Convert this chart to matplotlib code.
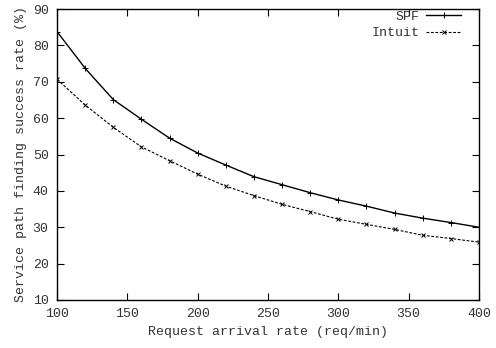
import matplotlib
matplotlib.use('Agg')
import matplotlib.pyplot as plt

# request arrival rate (req/min)
rates = [100, 120, 140, 160, 180, 200, 220, 240, 260, 280, 300, 320, 340, 360, 380, 400]

# success rate (%)
spf = [83.8, 73.7, 65.1, 59.7, 54.5, 50.4, 47.1, 43.9, 41.7, 39.5, 37.5, 35.8, 33.9, 32.5, 31.3, 30.0]
intuit = [70.7, 63.6, 57.5, 52.1, 48.3, 44.6, 41.3, 38.7, 36.3, 34.3, 32.2, 30.8, 29.4, 27.8, 26.9, 25.9]

xticks = [100, 150, 200, 250, 300, 350, 400]
yticks = [10, 20, 30, 40, 50, 60, 70, 80, 90]

plt.rcParams['font.family'] = ['Liberation Mono', 'DejaVu Sans Mono']
plt.rcParams['font.size'] = 9.5
text_col = '#333333'

fig = plt.figure(figsize=(4.96, 3.48), dpi=100)
ax = fig.add_axes([57 / 496, 1 - 300 / 348, (479 - 57) / 496, (300 - 9) / 348])

ax.plot(rates, spf, color='black', lw=1.0, marker='+', ms=4.5, mew=0.7, label='SPF')
ax.plot(rates, intuit, color='black', lw=0.8, ls=(0, (2.5, 1.5)), marker='x', ms=3.5, mew=0.7, label='Intuit')

ax.set_xlim(100, 400)
ax.set_ylim(10, 90)
ax.set_xticks(xticks)
ax.set_yticks(yticks)
ax.tick_params(direction='in', top=True, right=True, length=5, width=0.8, labelcolor=text_col, pad=6)
for s in ax.spines.values():
    s.set_linewidth(1.0)

ax.set_xlabel('Request arrival rate (req/min)', color=text_col, labelpad=4)
ax.set_ylabel('Service path finding success rate (%)', color=text_col, labelpad=4)

leg = ax.legend(loc='upper right', bbox_to_anchor=((462 - 57) / 422, 1.0), markerfirst=False,
                frameon=False, handlelength=2.6, borderpad=0.1, borderaxespad=0.0,
                labelspacing=0.35, handletextpad=0.5)
for t in leg.get_texts():
    t.set_color(text_col)

plt.savefig('out.png', dpi=100)
